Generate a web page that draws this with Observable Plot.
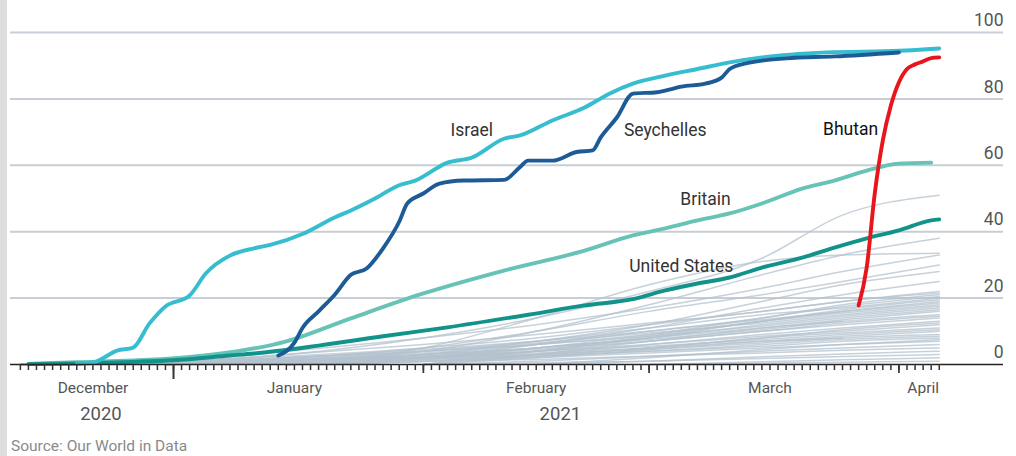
<!DOCTYPE html>
<html>
<head>
<meta charset="utf-8">
<script src="https://cdn.jsdelivr.net/npm/d3@7"></script>
<script src="https://cdn.jsdelivr.net/npm/@observablehq/plot@0.6"></script>
<style>
  html, body { margin: 0; padding: 0; background: #fff; }
  body { width: 1016px; height: 456px; overflow: hidden; position: relative;
         font-family: Roboto, "Liberation Sans", sans-serif; }
  #strip { position: absolute; left: 0; top: 0; width: 7px; height: 456px; background: #dedede; }
  #source { padding: 6px 0 0 11px; font-size: 15.5px; line-height: 20px; color: #8a8a8a; }
</style>
</head>
<body>
<div id="chart"></div>
<div id="source">Source: Our World in Data</div>
<div id="strip"></div>
<script>
const parse = d3.utcParse("%Y-%m-%d");

// ---- highlighted series (share of population with at least one dose, %) ----
const israelDates = ["2020-12-20","2020-12-22","2020-12-25","2020-12-27","2020-12-29","2020-12-31","2021-01-03","2021-01-05","2021-01-08","2021-01-11","2021-01-13","2021-01-17","2021-01-21","2021-01-23","2021-01-26","2021-01-29","2021-01-31","2021-02-04","2021-02-07","2021-02-11","2021-02-13","2021-02-17","2021-02-21","2021-02-24","2021-02-27","2021-03-03","2021-03-07","2021-03-11","2021-03-15","2021-03-23","2021-04-01","2021-04-06"];
const israelValues = [0.3,0.6,4.2,5.1,12.3,17.5,20.8,27.4,32.8,35,36,39.3,44.3,46.4,50,54,55.4,60.8,62.3,68,69,73.5,77.4,81.5,84.6,87,89,91,92.5,94,94.5,95.2];

const seychellesDates = ["2021-01-14","2021-01-16","2021-01-17","2021-01-19","2021-01-21","2021-01-23","2021-01-25","2021-01-27","2021-01-29","2021-01-30","2021-02-01","2021-02-03","2021-02-06","2021-02-11","2021-02-13","2021-02-14","2021-02-17","2021-02-20","2021-02-22","2021-02-23","2021-02-25","2021-02-27","2021-03-02","2021-03-03","2021-03-05","2021-03-08","2021-03-10","2021-03-11","2021-03-13","2021-03-18","2021-03-24","2021-04-01"];
const seychellesValues = [2.7,6.6,11,16,21,27,29,35,43,48.5,51.5,54.5,55.4,55.6,59.5,61.4,61.4,64,64.5,68.4,74.4,81.6,82,82.5,83.7,84.6,86.4,89,90.7,92.2,92.8,94];

const britainDates = ["2020-12-14","2020-12-20","2020-12-27","2021-01-03","2021-01-09","2021-01-15","2021-01-23","2021-02-01","2021-02-11","2021-02-21","2021-02-27","2021-03-03","2021-03-07","2021-03-11","2021-03-15","2021-03-20","2021-03-24","2021-03-28","2021-04-01","2021-04-05"];
const britainValues = [0.2,0.7,1.2,2.3,4,7,13.9,21.4,28.3,34.3,38.9,41,43.4,45.5,48.5,53,55.4,58.4,60.5,60.8];

const usDates = ["2020-12-14","2020-12-20","2020-12-27","2021-01-01","2021-01-08","2021-01-11","2021-01-19","2021-01-27","2021-02-04","2021-02-14","2021-02-21","2021-02-27","2021-03-03","2021-03-07","2021-03-11","2021-03-15","2021-03-20","2021-03-24","2021-03-28","2021-04-01","2021-04-05","2021-04-06"];
const usValues = [0.1,0.3,0.8,1.3,2.7,3.3,5.7,8.5,11.2,15,17.8,19.7,22.3,24.4,26.2,29.2,32.2,35.2,38,40.4,43.4,43.7];

const bhutanDates = ["2021-03-27","2021-03-28","2021-03-29","2021-03-30","2021-03-31","2021-04-01","2021-04-02","2021-04-03","2021-04-04","2021-04-05","2021-04-06"];
const bhutanValues = [17.8,29.2,51.5,67.5,78,85,89,90.4,91.3,92.3,92.5];

// ---- other countries (grey), values at these dates ----
const greyDates = ["2020-12-13","2020-12-31","2021-01-15","2021-02-01","2021-02-15","2021-03-01","2021-03-15","2021-03-25","2021-04-06"];
const greyValues = [
  [0, 0.5, 3, 8, 14, 22, 32, 45, 51],
  [null, 0, 1, 4, 10, 18, 27, 33, 38],
  [null, null, 0, 5, 14, 24, 31, 33, 33.5],
  [0, 1, 4, 8, 12, 17, 23, 28, 33],
  [0, 0.5, 2, 5, 10, 16, 21, 25, 30],
  [null, 0, 1, 3, 7, 12, 19, 24, 28],
  [null, null, 0, 2, 6, 11, 17, 21, 25],
  [0, 1, 2.5, 5, 8, 12, 16, 19, 22],
  [null, 0, 1, 3, 6, 10, 14, 18, 21],
  [0, 0.5, 1.5, 4, 7, 11, 15, 17, 20],
  [null, null, 0, 1.5, 4, 8, 13, 16, 19],
  [0, 1, 2, 4, 6, 9, 13, 15.5, 18],
  [null, 0, 1, 3, 5, 8, 12, 14.5, 17],
  [null, null, null, 0, 3, 7, 11, 13.5, 16],
  [0, 0.5, 1.5, 3, 5, 7.5, 10.5, 13, 15],
  [null, 0, 1, 2.5, 4.5, 7, 10, 12, 14],
  [null, null, 0, 1, 3, 6, 9, 11, 13],
  [0, 0.5, 1, 2, 4, 6, 8.5, 10, 12],
  [null, 0, 0.5, 1.5, 3, 5, 8, 9.5, 11],
  [null, null, null, 0, 2, 4.5, 7, 8.5, 10],
  [0, 0.3, 1, 2, 3, 4.5, 6.5, 8, 9],
  [null, 0, 0.5, 1.5, 2.5, 4, 5.5, 7, 8],
  [null, null, 0, 1, 2, 3.5, 5, 6, 7],
  [null, null, null, 0, 1, 2.5, 4, 5, 6],
  [null, 0, 0.3, 0.8, 1.5, 2.5, 3.5, 4.3, 5],
  [null, null, null, null, 0, 1, 2.3, 3.2, 4],
  [null, null, null, 0, 0.5, 1, 1.8, 2.4, 3],
  [null, null, null, null, null, 0, 0.8, 1.4, 2],
  [null, null, null, null, null, 0, 0.4, 0.7, 1],
  [null, null, 0, 2, 5, 9, 14, 17.5, 20.5],
  [0, 0.8, 2, 4.5, 7, 10, 13.5, 16, 18.5],
  [null, 0, 1.5, 3.5, 6, 8.5, 11.5, 14, 16.5],
  [null, null, 0, 2, 4, 7, 10, 12.5, 14.5],
  [null, null, null, 0, 2.5, 5, 8, 10.5, 12.5],
  [0, 0.3, 1, 2.5, 4, 5.5, 7.5, 9, 10.5],
  [0, 0.8, 3, 6, 9, 12.5, 16, 19, 21.5],
  [null, null, null, 0, 4, 8.5, 13, 16.5, 19.5],
  [null, 0, 2, 4, 6.5, 9.5, 12.5, 15, 17.5],
  [null, 0, 0.8, 2, 3.5, 5, 7, 8, null],
  [0, 0.4, 1.2, 2.5, 5, 8, 11, 13, null],
  [null, null, 0, 1, 2.5, 4, 6, 7.5, 8.5],
  [null, null, null, null, 0, 2, 4.5, 6, 7.5]
];

// ---- labels and axes ----
const labelNames = ["Israel", "Seychelles", "Bhutan", "Britain", "United States"];
const labelDates = ["2021-02-07", "2021-03-03", "2021-03-26", "2021-03-08", "2021-03-05"];
const labelValues = [70.5, 70.5, 70.8, 49.7, 29.5];

const monthNames = ["December", "January", "February", "March", "April"];
const monthLabelDates = ["2020-12-22", "2021-01-16", "2021-02-15", "2021-03-16", "2021-04-04"];
const yearNames = ["2020", "2021"];
const yearLabelDates = ["2020-12-23", "2021-02-18"];
const yTicks = [0, 20, 40, 60, 80, 100];

// ---- build tables ----
const colors = {
  "Israel": "#37bdd0",
  "Seychelles": "#1d5b96",
  "Britain": "#66c3b6",
  "United States": "#11928a",
  "Bhutan": "#e8161c"
};
function toRows(name, dates, values) {
  return dates.map((d, i) => ({name, date: parse(d), value: values[i]}));
}
const mainRows = [
  ...toRows("Britain", britainDates, britainValues),
  ...toRows("United States", usDates, usValues),
  ...toRows("Israel", israelDates, israelValues),
  ...toRows("Seychelles", seychellesDates, seychellesValues),
  ...toRows("Bhutan", bhutanDates, bhutanValues)
];
const greyRows = [];
greyValues.forEach((vals, k) => {
  vals.forEach((v, i) => {
    if (v !== null) greyRows.push({name: "c" + k, date: parse(greyDates[i]), value: v});
  });
});

const start = parse("2020-12-12"), end = parse("2021-04-07");
const dayTicks = d3.utcDay.range(parse("2020-12-13"), parse("2021-04-07"));
const monthTicks = [parse("2021-02-01"), parse("2021-03-01"), parse("2021-04-01")];
const yearTicks = [parse("2021-01-01")];
const FONT = 'Roboto, "Liberation Sans", sans-serif';

const chart = Plot.plot({
  width: 1016,
  height: 430,
  marginLeft: 10,
  marginRight: 13,
  marginTop: 32,
  marginBottom: 66,
  x: {type: "utc", domain: [start, end], range: [11.8, 946.8]},
  y: {domain: [0, 100], range: [364, 32]},
  style: {fontFamily: FONT, background: "white", overflow: "visible"},
  marks: [
    Plot.ruleY(yTicks.filter(d => d > 0), {stroke: "#c8ced5", strokeWidth: 2}),
    Plot.line(greyRows, {x: "date", y: "value", z: "name", stroke: "#b3c2cd",
      strokeWidth: 1.5, strokeOpacity: 0.75, curve: "monotone-x"}),
    Plot.line(mainRows, {x: "date", y: "value", z: "name",
      stroke: d => colors[d.name], strokeWidth: 3.9,
      strokeLinejoin: "round", strokeLinecap: "round", curve: "monotone-x"}),
    Plot.ruleY([0], {stroke: "#222", strokeWidth: 1.5}),
    Plot.axisX({ticks: dayTicks, tickSize: 6, tickFormat: () => "", stroke: "#333", strokeWidth: 1.5, label: null}),
    Plot.axisX({ticks: monthTicks, tickSize: 9, tickFormat: () => "", stroke: "#333", strokeWidth: 1.7, label: null}),
    Plot.axisX({ticks: yearTicks, tickSize: 15, tickFormat: () => "", stroke: "#333", strokeWidth: 2, label: null}),
    Plot.axisY({anchor: "right", ticks: yTicks, tickSize: 0, tickPadding: 0, textAnchor: "end",
      dy: -12, fontSize: 17.5, fill: "#555", label: null}),
    Plot.text(monthNames, {x: (d, i) => parse(monthLabelDates[i]), text: d => d, frameAnchor: "bottom",
      dy: 28, fontSize: 15.5, fill: "#555"}),
    Plot.text(yearNames, {x: (d, i) => parse(yearLabelDates[i]), text: d => d, frameAnchor: "bottom",
      dy: 55, fontSize: 18.5, fill: "#555"}),
    Plot.text(labelNames, {x: (d, i) => parse(labelDates[i]), y: (d, i) => labelValues[i], text: d => d,
      fontSize: 17.5, fill: d => d === "Bhutan" ? "#111" : "#333",
      fontWeight: d => d === "Bhutan" ? "bold" : "normal"})
  ]
});
document.getElementById("chart").appendChild(chart);
</script>
</body>
</html>
